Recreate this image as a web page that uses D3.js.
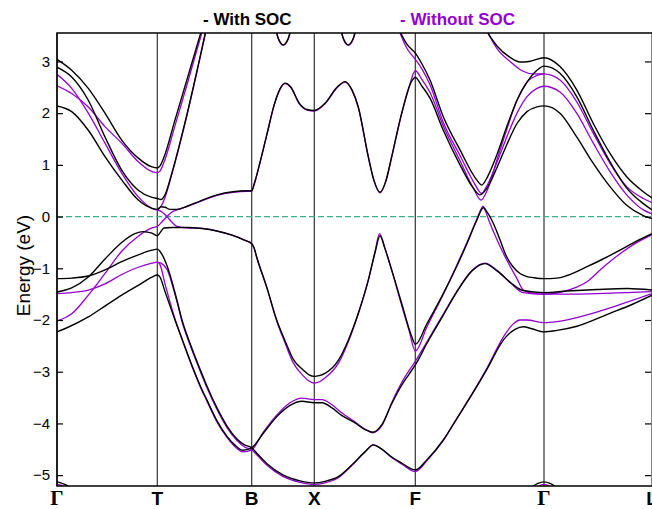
<!DOCTYPE html>
<html>
<head>
<meta charset="utf-8">
<script src="https://cdn.jsdelivr.net/npm/d3@7"></script>
<style>
  body { margin: 0; background: #fff; }
  svg { display: block; }
</style>
</head>
<body>
<svg id="chart" width="652" height="509"></svg>
<script>
// High-symmetry path: labels and their positions along the k-path
const kLabels = ["Γ", "T", "B", "X", "F", "Γ", "L"];
const kPoints = [0, 1.003, 1.947, 2.573, 3.583, 4.87, 5.95];
const energyTicks = [-5, -4, -3, -2, -1, 0, 1, 2, 3];

// ---- Bands with spin-orbit coupling: [k, E (eV)] ----
const socCond1 = [[0,3.04],[0.147,2.83],[0.313,2.48],[0.48,2.0],[0.647,1.48],[0.813,1.13],[0.95,0.96],[1.003,0.94],[1.03,0.98],[1.07,1.15],[1.18,1.87],[1.3,2.65],[1.46,3.7]];
const socCond2 = [[0,2.89],[0.147,2.70],[0.313,2.25],[0.48,1.54],[0.647,0.9],[0.813,0.51],[0.95,0.37],[1.003,0.35],[1.04,0.33],[1.08,0.42],[1.15,0.85],[1.28,1.82],[1.5,3.7]];
const socCond3 = [[0,2.14],[0.147,2.03],[0.313,1.67],[0.48,1.16],[0.647,0.71],[0.813,0.32],[0.95,0.16],[1.003,0.14],[1.04,0.19],[1.08,0.18],[1.13,0.14],[1.2,0.14],[1.3,0.2],[1.43,0.3],[1.6,0.42],[1.76,0.48],[1.9,0.5],[1.947,0.5],[1.97,0.62],[2.03,1.05],[2.1,1.6],[2.17,2.15],[2.23,2.47],[2.28,2.58],[2.34,2.5],[2.42,2.2],[2.5,2.07],[2.573,2.05],[2.68,2.19],[2.8,2.5],[2.88,2.61],[2.95,2.45],[3.013,2.12],[3.113,1.16],[3.17,0.7],[3.23,0.47],[3.29,0.7],[3.347,1.16],[3.447,2.0],[3.547,2.62],[3.583,2.69],[3.65,2.52],[3.73,2.29],[3.863,1.67],[4.03,1.0],[4.163,0.55],[4.23,0.42],[4.3,0.55],[4.4,0.95],[4.5,1.4],[4.6,1.8],[4.7,2.03],[4.8,2.12],[4.87,2.14],[5.03,2.0],[5.197,1.54],[5.363,1.03],[5.53,0.58],[5.697,0.22],[5.863,0.02],[5.95,-0.04]];
const socCond4 = [[3.4,3.7],[3.5,3.33],[3.583,3.16],[3.65,2.95],[3.73,2.64],[3.863,1.93],[4.03,1.29],[4.197,0.71],[4.247,0.61],[4.3,0.75],[4.4,1.2],[4.5,1.75],[4.6,2.25],[4.7,2.6],[4.8,2.83],[4.87,2.91],[5.03,2.77],[5.197,2.32],[5.363,1.67],[5.53,1.06],[5.697,0.55],[5.863,0.25],[5.95,0.13]];
const socCond5 = [[4.26,3.7],[4.4,3.3],[4.53,3.08],[4.63,2.99],[4.72,3.0],[4.87,3.07],[5.03,2.9],[5.197,2.45],[5.363,1.8],[5.53,1.22],[5.697,0.77],[5.863,0.48],[5.95,0.36]];
const socCondTopA = [[2.18,3.67],[2.213,3.45],[2.233,3.37],[2.263,3.32],[2.293,3.37],[2.313,3.45],[2.346,3.67]];
const socCondTopB = [[2.83,3.67],[2.863,3.45],[2.883,3.37],[2.913,3.32],[2.943,3.37],[2.963,3.45],[2.996,3.67]];
const socVal1 = [[0,-1.46],[0.147,-1.38],[0.313,-1.17],[0.48,-0.82],[0.647,-0.5],[0.78,-0.33],[0.86,-0.29],[0.95,-0.32],[1.003,-0.37],[1.035,-0.3],[1.07,-0.22],[1.15,-0.21],[1.3,-0.21],[1.45,-0.23],[1.6,-0.28],[1.75,-0.36],[1.88,-0.46],[1.947,-0.52],[1.97,-0.6],[2.0,-0.8],[2.097,-1.36],[2.197,-2.0],[2.28,-2.4],[2.36,-2.75],[2.463,-2.97],[2.52,-3.06],[2.573,-3.09],[2.63,-3.07],[2.68,-3.03],[2.813,-2.78],[2.913,-2.39],[3.013,-1.87],[3.113,-1.23],[3.18,-0.7],[3.23,-0.37],[3.28,-0.62],[3.347,-1.03],[3.447,-1.68],[3.547,-2.32],[3.583,-2.47],[3.7,-2.07],[3.863,-1.49],[4.0,-0.95],[4.1,-0.52],[4.2,-0.06],[4.263,0.17],[4.31,0.06],[4.363,-0.13],[4.43,-0.45],[4.497,-0.78],[4.56,-0.97],[4.63,-1.1],[4.7,-1.16],[4.763,-1.18],[4.87,-1.2],[5.0,-1.19],[5.1,-1.14],[5.3,-0.97],[5.45,-0.83],[5.63,-0.65],[5.8,-0.47],[5.95,-0.33]];
const socVal2 = [[0,-1.2],[0.147,-1.19],[0.313,-1.15],[0.48,-1.03],[0.647,-0.87],[0.813,-0.74],[0.95,-0.65],[1.003,-0.63],[1.04,-0.7],[1.1,-0.95],[1.2,-1.62],[1.25,-2.0],[1.33,-2.45],[1.43,-2.95],[1.5,-3.28],[1.6,-3.7],[1.7,-4.05],[1.8,-4.3],[1.88,-4.42],[1.947,-4.47],[2.0,-4.58],[2.1,-4.78],[2.263,-5.0],[2.43,-5.11],[2.573,-5.15],[2.68,-5.12],[2.813,-5.03],[2.95,-4.8],[3.08,-4.55],[3.163,-4.42],[3.25,-4.5],[3.347,-4.65],[3.45,-4.77],[3.583,-4.9],[3.7,-4.7],[3.863,-4.32],[4.0,-3.9],[4.197,-3.29],[4.3,-2.95],[4.463,-2.39],[4.58,-2.18],[4.663,-2.13],[4.75,-2.17],[4.87,-2.23],[5.0,-2.2],[5.2,-2.12],[5.53,-1.87],[5.75,-1.7],[5.95,-1.52]];
const socVal3 = [[0,-2.23],[0.1,-2.15],[0.313,-1.94],[0.48,-1.73],[0.647,-1.52],[0.813,-1.33],[0.95,-1.17],[1.003,-1.13],[1.03,-1.17],[1.08,-1.45],[1.18,-2.0],[1.26,-2.42],[1.35,-2.88],[1.43,-3.26],[1.5,-3.55],[1.6,-3.95],[1.7,-4.25],[1.78,-4.42],[1.86,-4.52],[1.947,-4.47],[2.063,-4.19],[2.197,-3.87],[2.33,-3.65],[2.45,-3.57],[2.573,-3.6],[2.65,-3.6],[2.75,-3.7],[2.85,-3.85],[2.98,-3.99],[3.08,-4.12],[3.16,-4.17],[3.25,-4.02],[3.347,-3.62],[3.45,-3.25],[3.52,-3.05],[3.583,-2.87],[3.7,-2.45],[3.85,-1.95],[4.0,-1.45],[4.15,-1.05],[4.28,-0.91],[4.4,-1.05],[4.55,-1.3],[4.66,-1.43],[4.87,-1.47],[5.1,-1.44],[5.4,-1.41],[5.7,-1.39],[5.95,-1.42]];
const socValLowA = [[0,-5.13],[0.05,-5.16],[0.11,-5.21],[0.16,-5.3]];
const socValLowB = [[4.7,-5.4],[4.76,-5.22],[4.81,-5.16],[4.87,-5.13],[4.93,-5.16],[4.98,-5.22],[5.04,-5.4]];

// ---- Bands without spin-orbit coupling: [k, E (eV)] ----
const noCond1 = [[0,2.53],[0.147,2.38],[0.313,2.12],[0.48,1.74],[0.647,1.42],[0.813,1.06],[0.95,0.87],[1.003,0.85],[1.03,0.88],[1.07,1.05],[1.18,1.76],[1.3,2.55],[1.47,3.7]];
const noCond2 = [[0,2.75],[0.147,2.48],[0.313,2.0],[0.48,1.42],[0.647,0.84],[0.813,0.38],[0.95,0.16],[1.003,0.13],[1.04,0.2],[1.08,0.37],[1.15,0.83],[1.28,1.8],[1.5,3.68]];
const noCond3 = [[0,-2.02],[0.147,-1.88],[0.313,-1.52],[0.48,-1.1],[0.647,-0.67],[0.813,-0.38],[0.95,-0.22],[1.003,-0.19],[1.05,-0.1],[1.1,0.0],[1.15,0.09],[1.2,0.13],[1.3,0.19],[1.43,0.29],[1.6,0.41],[1.76,0.47],[1.9,0.49],[1.947,0.49],[1.97,0.61],[2.03,1.04],[2.1,1.59],[2.17,2.14],[2.23,2.46],[2.28,2.57],[2.34,2.49],[2.42,2.19],[2.5,2.06],[2.573,2.04],[2.68,2.18],[2.8,2.49],[2.88,2.6],[2.95,2.44],[3.013,2.11],[3.113,1.15],[3.17,0.69],[3.23,0.46],[3.29,0.69],[3.347,1.15],[3.447,1.99],[3.52,2.5],[3.583,2.82],[3.65,2.65],[3.73,2.4],[3.863,1.75],[4.03,1.08],[4.163,0.55],[4.24,0.32],[4.3,0.5],[4.4,1.1],[4.5,1.7],[4.6,2.25],[4.7,2.6],[4.8,2.73],[4.87,2.76],[5.03,2.64],[5.197,2.22],[5.363,1.61],[5.53,1.03],[5.697,0.58],[5.863,0.35],[5.95,0.27]];
const noCond4 = [[3.4,3.7],[3.5,3.25],[3.583,3.04],[3.65,2.85],[3.73,2.55],[3.863,1.82],[4.03,1.18],[4.163,0.68],[4.247,0.45],[4.3,0.6],[4.4,1.05],[4.5,1.55],[4.6,2.0],[4.7,2.32],[4.8,2.48],[4.87,2.52],[5.03,2.41],[5.197,2.0],[5.363,1.42],[5.53,0.87],[5.697,0.42],[5.863,0.13],[5.95,0.05]];
const noCond5 = [[4.27,3.7],[4.4,3.25],[4.53,3.0],[4.65,2.82],[4.76,2.76],[4.87,2.76]];
const noCondTopA = [[2.18,3.66],[2.213,3.44],[2.233,3.36],[2.263,3.31],[2.293,3.36],[2.313,3.44],[2.346,3.66]];
const noCondTopB = [[2.83,3.66],[2.863,3.44],[2.883,3.36],[2.913,3.31],[2.943,3.36],[2.963,3.44],[2.996,3.66]];
const noVal1 = [[1.003,0.13],[1.05,0.09],[1.1,0.0],[1.15,-0.11],[1.2,-0.19],[1.3,-0.22],[1.45,-0.23],[1.6,-0.28],[1.75,-0.36],[1.88,-0.46],[1.947,-0.53],[1.97,-0.61],[2.0,-0.81],[2.097,-1.37],[2.197,-2.02],[2.28,-2.44],[2.36,-2.82],[2.463,-3.08],[2.52,-3.18],[2.573,-3.22],[2.63,-3.19],[2.68,-3.12],[2.813,-2.84],[2.913,-2.42],[3.013,-1.88],[3.113,-1.23],[3.18,-0.68],[3.225,-0.33],[3.28,-0.62],[3.347,-1.04],[3.447,-1.72],[3.52,-2.2],[3.583,-2.6],[3.7,-2.13],[3.863,-1.5],[4.0,-0.93],[4.1,-0.5],[4.2,-0.04],[4.24,0.14],[4.26,0.2],[4.28,0.13],[4.32,-0.08],[4.4,-0.45],[4.5,-0.85],[4.6,-1.2],[4.663,-1.42],[4.75,-1.48],[4.87,-1.5],[5.0,-1.48],[5.15,-1.4],[5.3,-1.26],[5.45,-1.0],[5.63,-0.72],[5.8,-0.5],[5.95,-0.35]];
const noVal2 = [[0,-1.49],[0.147,-1.47],[0.313,-1.42],[0.48,-1.3],[0.647,-1.12],[0.813,-0.98],[0.95,-0.9],[1.003,-0.88],[1.03,-0.93],[1.08,-1.3],[1.18,-1.98],[1.26,-2.42],[1.35,-2.9],[1.43,-3.28],[1.5,-3.57],[1.6,-3.97],[1.7,-4.27],[1.78,-4.45],[1.86,-4.55],[1.947,-4.51],[2.063,-4.17],[2.197,-3.84],[2.33,-3.6],[2.45,-3.51],[2.573,-3.54],[2.65,-3.54],[2.75,-3.64],[2.85,-3.8],[2.98,-3.97],[3.08,-4.11],[3.16,-4.18],[3.25,-4.04],[3.347,-3.6],[3.45,-3.2],[3.52,-2.98],[3.583,-2.8],[3.7,-2.42],[3.85,-1.93],[4.0,-1.44],[4.15,-1.04],[4.28,-0.9],[4.4,-1.04],[4.55,-1.31],[4.66,-1.47],[4.87,-1.5],[5.1,-1.5],[5.4,-1.49],[5.7,-1.47],[5.95,-1.45]];
const noVal3 = [[1.003,-0.88],[1.04,-0.9],[1.1,-1.02],[1.2,-1.65],[1.25,-2.03],[1.33,-2.48],[1.43,-2.98],[1.5,-3.31],[1.6,-3.73],[1.7,-4.08],[1.8,-4.33],[1.88,-4.46],[1.947,-4.51],[2.0,-4.61],[2.1,-4.81],[2.263,-5.03],[2.43,-5.14],[2.573,-5.18],[2.68,-5.15],[2.813,-5.05],[2.95,-4.81],[3.08,-4.55],[3.163,-4.41],[3.25,-4.5],[3.347,-4.66],[3.45,-4.79],[3.583,-4.93],[3.7,-4.72],[3.863,-4.33],[4.0,-3.9],[4.197,-3.28],[4.3,-2.93],[4.463,-2.33],[4.56,-2.08],[4.63,-2.0],[4.7,-2.0],[4.87,-2.05],[5.0,-2.03],[5.3,-1.9],[5.6,-1.72],[5.95,-1.49]];
const noValLowA = [[0,-5.18],[0.05,-5.2],[0.1,-5.26],[0.13,-5.32]];
const noValLowB = [[4.78,-5.3],[4.82,-5.21],[4.87,-5.18],[4.92,-5.21],[4.96,-5.3]];

const socBands = [socCond1, socCond2, socCond3, socCond4, socCond5, socCondTopA, socCondTopB,
                  socVal1, socVal2, socVal3, socValLowA, socValLowB];
const noSocBands = [noCond1, noCond2, noCond3, noCond4, noCond5, noCondTopA, noCondTopB,
                    noVal1, noVal2, noVal3, noValLowA, noValLowB];

const socColor = "#000000";
const noSocColor = "#9400d3";

// ---- Layout ----
const plot = { left: 57, right: 652, top: 33, bottom: 486 };
const svg = d3.select("#chart");

const x = d3.scaleLinear().domain([0, 5.95]).range([plot.left, plot.right]);
const y = d3.scaleLinear().domain([-5.21, 3.55]).range([plot.bottom, plot.top]);

svg.append("defs").append("clipPath").attr("id", "plot-clip")
  .append("rect")
  .attr("x", plot.left).attr("y", plot.top)
  .attr("width", plot.right - plot.left).attr("height", plot.bottom - plot.top);

// vertical lines at the high-symmetry points
svg.append("g").selectAll("line")
  .data(kPoints)
  .join("line")
  .attr("x1", d => x(d)).attr("x2", d => x(d))
  .attr("y1", plot.top).attr("y2", plot.bottom)
  .attr("stroke", "#333")
  .attr("stroke-width", 1.2);

// Fermi level
svg.append("line")
  .attr("x1", plot.left).attr("x2", plot.right)
  .attr("y1", y(0)).attr("y2", y(0))
  .attr("stroke", "#3cb08f")
  .attr("stroke-width", 1.3)
  .attr("stroke-dasharray", "6,3");

const line = d3.line()
  .x(d => x(d[0]))
  .y(d => y(d[1]))
  .curve(d3.curveMonotoneX);

const bands = svg.append("g").attr("clip-path", "url(#plot-clip)");

bands.append("g").selectAll("path")
  .data(noSocBands)
  .join("path")
  .attr("d", line)
  .attr("fill", "none")
  .attr("stroke", noSocColor)
  .attr("stroke-width", 1.3);

bands.append("g").selectAll("path")
  .data(socBands)
  .join("path")
  .attr("d", line)
  .attr("fill", "none")
  .attr("stroke", socColor)
  .attr("stroke-width", 1.4);

// axes: inward ticks on both sides
const leftAxis = d3.axisLeft(y).tickValues(energyTicks).tickSize(-6).tickPadding(7)
  .tickFormat(d3.format("d"));
const gl = svg.append("g").attr("transform", `translate(${plot.left},0)`).call(leftAxis);
gl.select(".domain").remove();
gl.selectAll(".tick line").attr("stroke", "#000").attr("stroke-width", 1.2);
gl.selectAll(".tick text")
  .attr("font-family", "'Liberation Sans', Arial, sans-serif")
  .attr("font-size", 15)
  .attr("fill", "#000");

const rightAxis = d3.axisRight(y).tickValues(energyTicks).tickSize(-6).tickFormat("");
const gr = svg.append("g").attr("transform", `translate(${plot.right - 1},0)`).call(rightAxis);
gr.select(".domain").remove();
gr.selectAll(".tick line").attr("stroke", "#000").attr("stroke-width", 1.2);

// frame
svg.append("rect")
  .attr("x", plot.left).attr("y", plot.top)
  .attr("width", plot.right - plot.left + 2).attr("height", plot.bottom - plot.top)
  .attr("fill", "none")
  .attr("stroke", "#000")
  .attr("stroke-width", 1.5);

// k-point labels
svg.append("g").selectAll("text")
  .data(kLabels.map((t, i) => ({ t, k: kPoints[i] })))
  .join("text")
  .attr("x", d => x(d.k))
  .attr("y", 505)
  .attr("text-anchor", "middle")
  .attr("font-family", d => d.t === "Γ" ? "'Liberation Serif', 'Times New Roman', serif" : "'Liberation Sans', Arial, sans-serif")
  .attr("font-weight", "bold")
  .attr("font-size", d => d.t === "Γ" ? 21 : 19)
  .attr("fill", "#000")
  .text(d => d.t);

// y-axis title
svg.append("text")
  .attr("transform", `translate(30,${(plot.top + plot.bottom) / 2 + 6}) rotate(-90)`)
  .attr("text-anchor", "middle")
  .attr("font-family", "'Liberation Sans', Arial, sans-serif")
  .attr("font-size", 19)
  .attr("fill", "#000")
  .text("Energy (eV)");

// legend
svg.append("text")
  .attr("x", 203).attr("y", 25)
  .attr("font-family", "'Liberation Sans', Arial, sans-serif")
  .attr("font-weight", "bold")
  .attr("font-size", 17)
  .attr("fill", socColor)
  .text("- With SOC");
svg.append("text")
  .attr("x", 400).attr("y", 25)
  .attr("font-family", "'Liberation Sans', Arial, sans-serif")
  .attr("font-weight", "bold")
  .attr("font-size", 17)
  .attr("fill", noSocColor)
  .text("- Without SOC");
</script>
</body>
</html>
